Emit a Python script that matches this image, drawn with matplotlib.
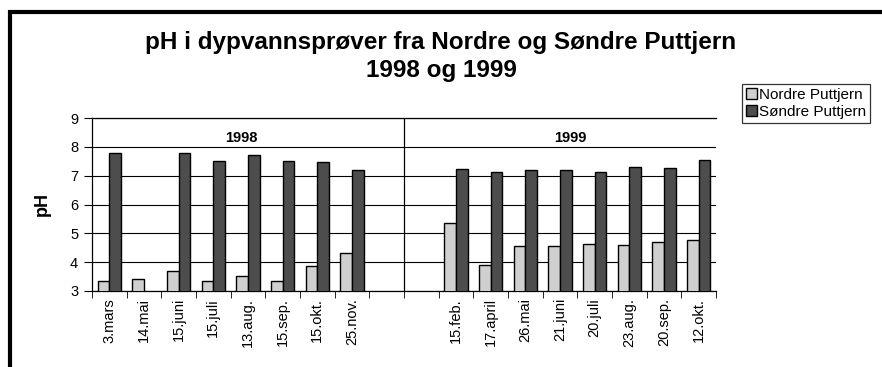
import numpy as np
import matplotlib.pyplot as plt
from matplotlib.patches import Rectangle

plt.rcParams['font.family'] = ['Liberation Sans', 'DejaVu Sans']

# prøvedatoer og pH-verdier
datoer_1998 = ['3.mars', '14.mai', '15.juni', '15.juli', '13.aug.', '15.sep.', '15.okt.', '25.nov.']
nordre_1998 = [3.33, 3.40, 3.69, 3.35, 3.52, 3.35, 3.85, 4.31]
sondre_1998 = [7.78, np.nan, 7.80, 7.51, 7.73, 7.51, 7.47, 7.20]

datoer_1999 = ['15.feb.', '17.april', '26.mai', '21.juni', '20.juli', '23.aug.', '20.sep.', '12.okt.']
nordre_1999 = [5.36, 3.90, 4.56, 4.56, 4.64, 4.59, 4.71, 4.76]
sondre_1999 = [7.22, 7.14, 7.21, 7.21, 7.12, 7.29, 7.28, 7.53]

# en tom kategori på hver side av årsskillet
etiketter = datoer_1998 + ['', ''] + datoer_1999
nordre = nordre_1998 + [np.nan, np.nan] + nordre_1999
sondre = sondre_1998 + [np.nan, np.nan] + sondre_1999
x = np.arange(len(etiketter))

fig = plt.figure(figsize=(8.82, 3.67), dpi=100)
ax = fig.add_axes([92 / 882, 1 - 291 / 367, (716 - 92) / 882, (291 - 118) / 367])

bw = 0.34
ax.bar(x - bw / 2, nordre, bw, color='#cfcfcf', edgecolor='black', linewidth=1.0,
       label='Nordre Puttjern', zorder=3)
ax.bar(x + bw / 2, sondre, bw, color='#4d4d4d', edgecolor='black', linewidth=1.0,
       label='Søndre Puttjern', zorder=3)

ax.set_ylim(3, 9)
ax.set_xlim(-0.5, len(etiketter) - 0.5)
ax.set_yticks(range(3, 10))
ax.yaxis.grid(True, color='black', linewidth=0.8, zorder=0)
ax.tick_params(axis='y', direction='out', length=6, labelsize=10.5, pad=4)

ax.set_xticks(x)
ax.set_xticklabels(etiketter, rotation=90, fontsize=10.5)
ax.tick_params(axis='x', which='major', length=0, pad=5)
ax.set_xticks(np.arange(-0.5, len(etiketter)), minor=True)
ax.tick_params(axis='x', which='minor', direction='out', length=5)

ax.spines['right'].set_visible(False)
for s in ['left', 'bottom', 'top']:
    ax.spines[s].set_linewidth(0.9)

# skille mellom årene
ax.axvline(8.5, color='black', linewidth=0.9, zorder=4)
ax.text(3.8, 8.3, '1998', ha='center', va='center', fontsize=10.5, fontweight='bold')
ax.text(13.3, 8.3, '1999', ha='center', va='center', fontsize=10.5, fontweight='bold')

ax.set_ylabel('pH', fontsize=13, fontweight='bold', labelpad=14)

fig.text(0.5, 1 - 43 / 367, 'pH i dypvannsprøver fra Nordre og Søndre Puttjern',
         ha='center', va='center', fontsize=17.5, fontweight='bold')
fig.text(0.5, 1 - 70 / 367, '1998 og 1999', ha='center', va='center',
         fontsize=17.5, fontweight='bold')

leg = fig.legend(loc='upper left', bbox_to_anchor=(742 / 882, 1 - 84 / 367),
                 fontsize=11, frameon=True, fancybox=False, edgecolor='black',
                 handlelength=0.7, handleheight=0.7, handletextpad=0.15,
                 borderpad=0.25, labelspacing=0.2, borderaxespad=0)
leg.get_frame().set_linewidth(0.9)

# ytre ramme
fig.add_artist(Rectangle((10 / 882, -0.1), 1.2, 1.1 - 12 / 367, transform=fig.transFigure,
                         fill=False, edgecolor='black', linewidth=3, clip_on=False))

fig.savefig('out.png', dpi=100)
